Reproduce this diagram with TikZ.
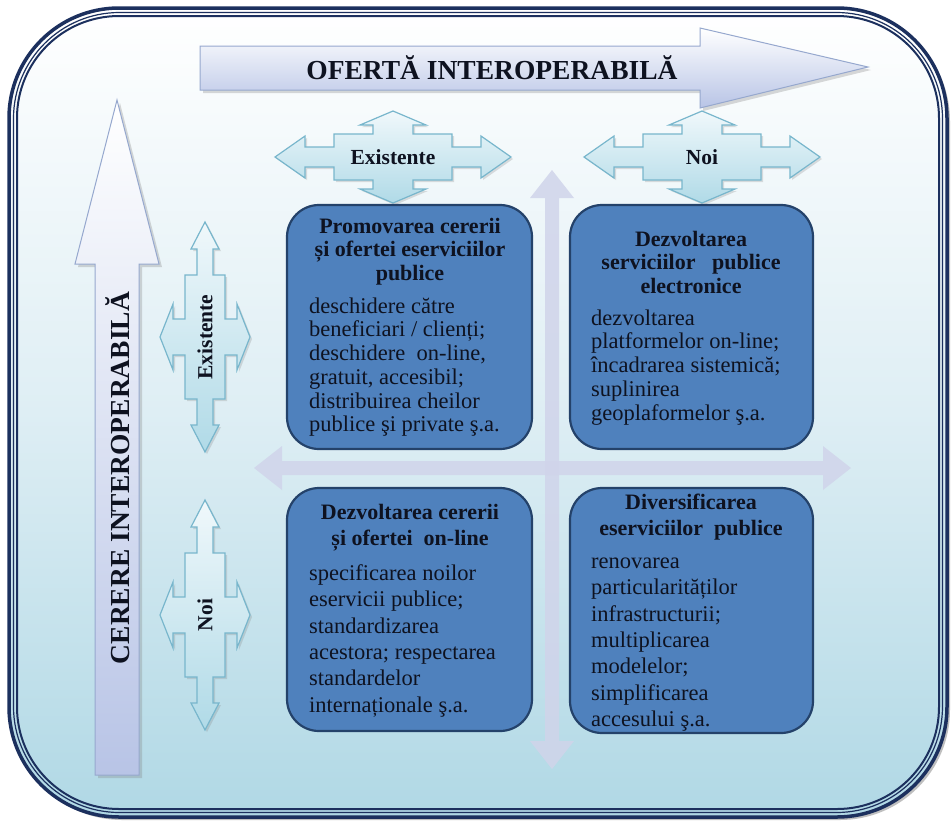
\documentclass[tikz,border=0pt]{standalone}
\usepackage{fontspec}
\setmainfont{Liberation Serif}
\usetikzlibrary{shadows}
\definecolor{navy}{RGB}{28,48,94}
\definecolor{framebot}{RGB}{176,216,229}
\definecolor{framemid}{RGB}{222,238,244}
\definecolor{boxfill}{RGB}{79,129,189}
\definecolor{boxdraw}{RGB}{36,66,106}
\definecolor{qedge}{RGB}{120,182,204}
\definecolor{qtop}{RGB}{240,248,251}
\definecolor{qbot}{RGB}{176,218,231}
\definecolor{crossc}{RGB}{208,212,234}
\definecolor{bigedge}{RGB}{150,168,206}
\definecolor{bigbot}{RGB}{184,196,230}
\definecolor{txt}{RGB}{14,18,32}
\newcommand\quadH[1]{\path[quad,shift={#1}] (0,-46) -- (33,-32) -- (20,-32) -- (20,-23) -- (59,-23) -- (59,-10) -- (88,-10) -- (88,-21) -- (118,0) -- (88,21) -- (88,10) -- (59,10) -- (59,23) -- (20,23) -- (20,32) -- (33,32) -- (0,46) -- (-33,32) -- (-20,32) -- (-20,23) -- (-59,23) -- (-59,10) -- (-88,10) -- (-88,21) -- (-118,0) -- (-88,-21) -- (-88,-10) -- (-59,-10) -- (-59,-23) -- (-20,-23) -- (-20,-32) -- (-33,-32) -- cycle;}
\newcommand\quadV[1]{\path[quad,shift={#1}] (-45,0) -- (-32,33) -- (-32,18) -- (-20,18) -- (-20,62) -- (-8,62) -- (-8,88) -- (-14,88) -- (0,115) -- (14,88) -- (8,88) -- (8,62) -- (20,62) -- (20,18) -- (32,18) -- (32,33) -- (45,0) -- (32,-33) -- (32,-18) -- (20,-18) -- (20,-62) -- (8,-62) -- (8,-88) -- (14,-88) -- (0,-115) -- (-14,-88) -- (-8,-88) -- (-8,-62) -- (-20,-62) -- (-20,-18) -- (-32,-18) -- (-32,-33) -- cycle;}
\begin{document}
\begin{tikzpicture}[x=1pt,y=-1pt,
  quad/.style={draw=qedge, line width=1.2pt, top color=qtop, bottom color=qbot,
    drop shadow={opacity=0.25, shadow xshift=2pt, shadow yshift=-2pt}},
  bigarrow/.style={draw=bigedge, line width=1pt, top color=white, bottom color=bigbot,
    drop shadow={opacity=0.3, shadow xshift=3pt, shadow yshift=-3pt}},
  crossarrow/.style={fill=crossc, opacity=0.85},
  qbox/.style={draw=boxdraw, line width=2.2pt, fill=boxfill, rounded corners=32pt},
  quadtxt/.style={text=txt, inner sep=0pt, font=\fontsize{21.5}{23}\selectfont\bfseries},
  bigtxt/.style={text=txt, inner sep=0pt, font=\fontsize{27.5}{30}\selectfont\bfseries},
  ttlA/.style={text=txt, inner sep=0pt, align=center, anchor=north, font=\fontsize{22}{23.6}\selectfont\bfseries},
  ttlB/.style={text=txt, inner sep=0pt, align=center, anchor=north, font=\fontsize{22}{26}\selectfont\bfseries},
  bodyA/.style={text=txt, inner sep=0pt, align=left, anchor=north west, font=\fontsize{22.5}{23.7}\selectfont},
  bodyB/.style={text=txt, inner sep=0pt, align=left, anchor=north west, font=\fontsize{22.5}{26.4}\selectfont}]
\useasboundingbox (0,0) rectangle (951,823);
\fill[white] (0,0) rectangle (951,823);
% frame
\fill[black!25, rounded corners=110pt] (12,11) rectangle (950,820);
\path[top color=white, bottom color=framebot, middle color=framemid, rounded corners=110pt] (9,8) rectangle (947,817);
\draw[navy, line width=3.5pt, rounded corners=110pt] (9,8) rectangle (947,817);
\draw[navy, line width=1.2pt, rounded corners=106pt] (13.5,12.5) rectangle (942.5,812.5);
\draw[navy, line width=2pt, rounded corners=102pt] (17,16) rectangle (939,809);
% big arrows
\path[bigarrow] (200,46) -- (700,46) -- (700,28) -- (868,67) -- (700,108) -- (700,90) -- (200,90) -- cycle;
\node[bigtxt] (oferta) at (492,68) {OFERTĂ INTEROPERABILĂ};
\path[bigarrow] (117,100) -- (159,264) -- (139,264) -- (139,775) -- (95,775) -- (95,264) -- (75,264) -- cycle;
\node[bigtxt, rotate=90] (cerere) at (118,478) {CERERE INTEROPERABILĂ};
% central cross
\path[crossarrow] (552,170) -- (574,198) -- (559,198) -- (559,741) -- (574,741) -- (552,769) -- (530,741) -- (545,741) -- (545,198) -- (530,198) -- cycle;
\path[crossarrow] (254,468) -- (282,446) -- (282,461) -- (823,461) -- (823,446) -- (851,468) -- (823,490) -- (823,475) -- (282,475) -- (282,490) -- cycle;
% quad arrows
\quadH{(393,157)}
\node[quadtxt] (exOf) at (393,157) {Existente};
\quadH{(702,157)}
\node[quadtxt] (noiOf) at (702,157) {Noi};
\quadV{(205,337)}
\node[quadtxt, rotate=90] (exCe) at (205,337) {Existente};
\quadV{(205,615)}
\node[quadtxt, rotate=90] (noiCe) at (205,615) {Noi};
% boxes
\node[qbox, minimum width=245pt, minimum height=244pt] (b1) at (409.5,327) {};
\node[qbox, minimum width=243pt, minimum height=244pt] (b2) at (691.5,327) {};
\node[qbox, minimum width=245pt, minimum height=243pt] (b3) at (409.5,609.5) {};
\node[qbox, minimum width=243pt, minimum height=245pt] (b4) at (691.5,610.5) {};
% texts
\node[ttlA] (t1) at (410,217) {\rule{0pt}{16pt}Promovarea cererii\\ și ofertei eserviciilor\\ publice};
\node[bodyA] (d1) at (309,297) {\rule{0pt}{16pt}deschidere către\\ beneficiari / clienți;\\ deschidere~ on-line,\\ gratuit, accesibil;\\ distribuirea cheilor\\ publice şi private ş.a.};
\node[ttlA] (t2) at (691,230) {\rule{0pt}{16pt}Dezvoltarea\\ serviciilor~~ publice\\ electronice};
\node[bodyA] (d2) at (591,309) {\rule{0pt}{16pt}dezvoltarea\\ platformelor on-line;\\ încadrarea sistemică;\\ suplinirea\\ geoplaformelor ş.a.};
\node[ttlB] (t3) at (410,503) {\rule{0pt}{16pt}Dezvoltarea cererii\\ și ofertei~ on-line};
\node[bodyB] (d3) at (309,564) {\rule{0pt}{16pt}specificarea noilor\\ eservicii publice;\\ standardizarea\\ acestora; respectarea\\ standardelor\\ internaționale ş.a.};
\node[ttlB] (t4) at (691,493) {\rule{0pt}{16pt}Diversificarea\\ eserviciilor~ publice};
\node[bodyB] (d4) at (591,552) {\rule{0pt}{16pt}renovarea\\ particularităților\\ infrastructurii;\\ multiplicarea\\ modelelor;\\ simplificarea\\ accesului ş.a.};
\end{tikzpicture}
\end{document}
